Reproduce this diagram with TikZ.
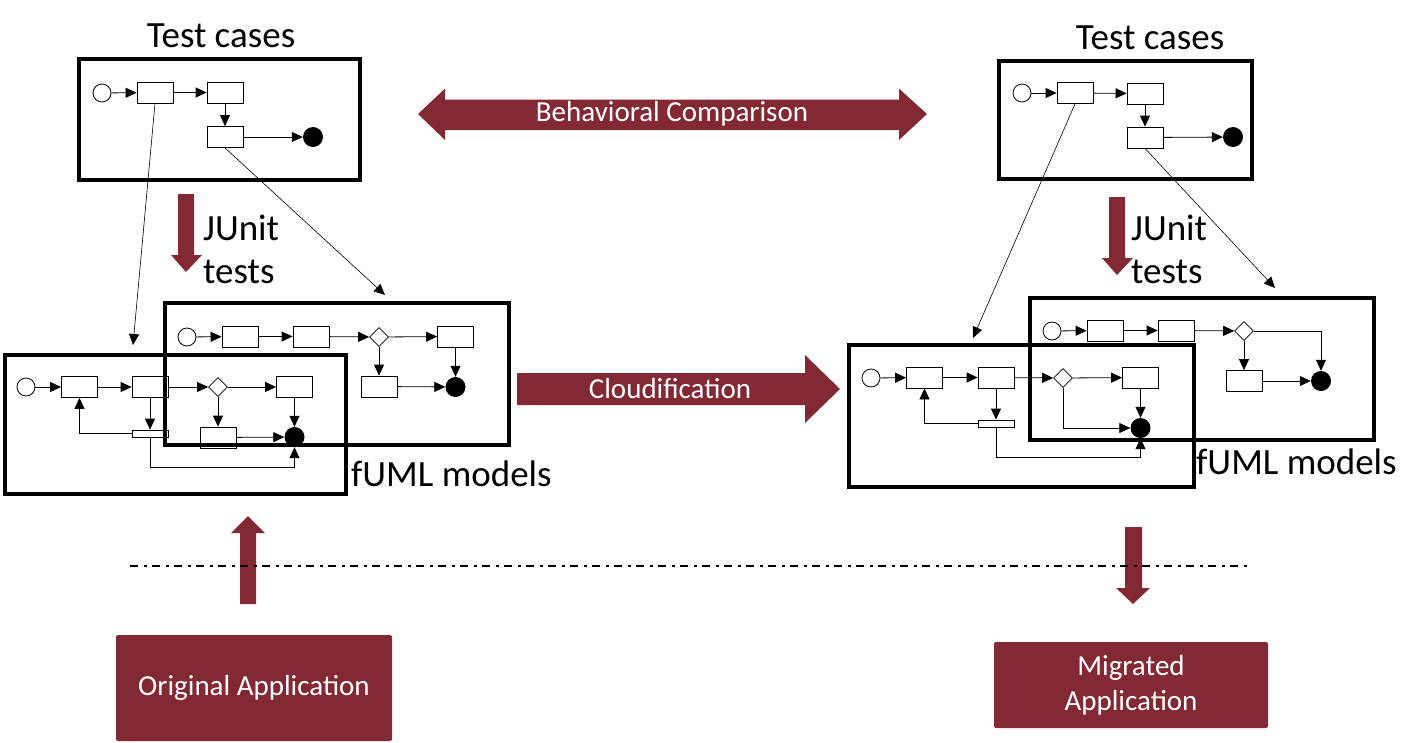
\documentclass[tikz,border=0pt]{standalone}
\usepackage{fontspec}
\setmainfont{Carlito}
\usetikzlibrary{shapes.geometric,arrows.meta}
\definecolor{maroon}{RGB}{131,41,52}
\tikzset{
  act/.style={draw, line width=0.8pt, minimum width=36pt, minimum height=21pt, inner sep=0pt},
  start/.style={draw, circle, line width=0.8pt, minimum size=18pt, inner sep=0pt},
  stop/.style={fill, circle, minimum size=20pt, inner sep=0pt},
  decision/.style={draw, diamond, line width=0.8pt, minimum width=19pt, minimum height=19pt, inner sep=0pt},
  fork/.style={draw, line width=0.8pt, minimum width=36pt, minimum height=7pt, inner sep=0pt},
  frame/.style={draw, line width=3.5pt, inner sep=0pt, anchor=north west},
  flow/.style={line width=0.8pt, -{Triangle[length=11pt,width=10pt]}},
  title/.style={inner sep=0pt, font=\fontsize{37}{43}\selectfont},
  banner/.style={text=white, inner sep=0pt, font=\fontsize{29}{35}\selectfont},
  appbox/.style={fill=maroon, rounded corners=2pt, text=white, align=center, font=\fontsize{29}{35}\selectfont}
}
\begin{document}
\begin{tikzpicture}[x=1pt,y=-1pt]
    \useasboundingbox (0,0) rectangle (1425,742);
    % Frames
    \node[frame, minimum width=281pt, minimum height=121pt] (tcL) at (77,57) {};
    \node[frame, minimum width=253pt, minimum height=118pt] (tcR) at (997,59) {};
    \node[frame, minimum width=344pt, minimum height=142pt] (fmLb) at (163,301) {};
    \node[frame, minimum width=341pt, minimum height=139pt] (fmLf) at (3,353) {};
    \node[frame, minimum width=344pt, minimum height=142pt] (fmRb) at (1028,296) {};
    \node[frame, minimum width=345pt, minimum height=142pt] (fmRf) at (847,343) {};
    % Labels
    \node[title] (tcLt) at (221,36) {Test cases};
    \node[title] (tcRt) at (1150,38) {Test cases};
    \node[title, anchor=west, align=left] (juL) at (203,249) {JUnit\\tests};
    \node[title, anchor=west, align=left] (juR) at (1131,249) {JUnit\\tests};
    \node[title, anchor=west] (fmLt) at (351,474) {fUML models};
    \node[title, anchor=west] (fmRt) at (1196,462) {fUML models};
    % Actions
    \foreach \n/\x/\y in {tLa/155/92.5, tLb/225/92.5, tLc/225/137,
                          tRa/1075/93, tRb/1145/93.5, tRc/1145/137.5,
                          LbA/240/336.5, LbB/311/336.5, LbC/455.5/336.5, LbD/379/386.5,
                          LfE/79.5/387, LfF/150/387, LfG/294.5/387, LfH/218/437.5,
                          RbA/1105/330.5, RbB/1176/330.5, RbD/1244/381,
                          RfE/924.5/377.5, RfF/996/377.5, RfG/1140.5/377.5} {
        \node[act] (\n) at (\x,\y) {};
    }
    % Initial, final, decision and fork nodes
    \foreach \n/\x/\y in {tLs/102/93, tRs/1022/93, Lbs/187/337, Lfs/26/387, Rbs/1052/331, Rfs/871/378}
        \node[start] (\n) at (\x,\y) {};
    \foreach \n/\x/\y in {tLe/313/137, tRe/1233/137, Lbe/455.5/387, Lfe/294.5/437, Rbe/1321/381, Rfe/1140.5/428}
        \node[stop] (\n) at (\x,\y) {};
    \foreach \n/\x/\y in {Lbd/379/337, Lfd/218/387, Rbd/1244/331, Rfd/1063/378}
        \node[decision] (\n) at (\x,\y) {};
    \node[fork] (Lfk) at (150,433.5) {};
    \node[fork] (Rfk) at (996,423.5) {};
    % Control flows
    \foreach \a/\b in {tLs/tLa, tLa/tLb, tLb/tLc, tLc/tLe, tRs/tRa, tRa/tRb, tRb/tRc, tRc/tRe,
                       Lbs/LbA, LbA/LbB, LbB/Lbd, Lbd/LbC, Lbd/LbD, LbC/Lbe, LbD/Lbe,
                       Lfs/LfE, LfE/LfF, LfF/Lfd, Lfd/LfG, Lfd/LfH, LfG/Lfe, LfH/Lfe, LfF/Lfk,
                       Rbs/RbA, RbA/RbB, RbB/Rbd, Rbd/RbD, RbD/Rbe,
                       Rfs/RfE, RfE/RfF, RfF/Rfd, Rfd/RfG, RfG/Rfe, RfF/Rfk}
        \draw[flow] (\a) -- (\b);
    \draw[flow] (Lfk) -| (LfE);
    \draw[flow] (Lfk.south) -- ++(0,30) -| (Lfe.south);
    \draw[flow] (Rbd) -| (Rbe);
    \draw[flow] (Rfd) |- (Rfe);
    \draw[flow] (Rfk) -| (RfE);
    \draw[flow] (Rfk.south) -- ++(0,30) -| (Rfe.south);
    % Test cases to models
    \coordinate (hLf) at (133,345);
    \coordinate (hLb) at (385,295);
    \coordinate (hRf) at (973,338);
    \coordinate (hRb) at (1275,288);
    \draw[flow, line width=0.6pt] (tLa.south) -- (hLf);
    \draw[flow, line width=0.6pt] (tLc.south) -- (hLb);
    \draw[flow, line width=0.6pt] (tRa.south) -- (hRf);
    \draw[flow, line width=0.6pt] (tRc.south) -- (hRb);
    % Block arrows
    \fill[maroon] (418,114) -- (445,88.6) -- (445,99.6) -- (899,99.6) -- (899,88.6) -- (927,114)
        -- (899,140) -- (899,130) -- (445,130) -- (445,140) -- cycle;
    \node[banner] (bcT) at (672,114) {Behavioral Comparison};
    \fill[maroon] (517,373) -- (805,373) -- (805,355) -- (840,389) -- (805,423) -- (805,405) -- (517,405) -- cycle;
    \node[banner] (clT) at (670,389) {Cloudification};
    \fill[maroon] (178,194) -- (194,194) -- (194,255) -- (202,255) -- (186,272) -- (171,255) -- (178,255) -- cycle;
    \fill[maroon] (1109,197) -- (1125,197) -- (1125,258) -- (1133,258) -- (1117,275) -- (1102,258) -- (1109,258) -- cycle;
    \fill[maroon] (240,604) -- (256,604) -- (256,533) -- (265,533) -- (248,516) -- (231,533) -- (240,533) -- cycle;
    \fill[maroon] (1125,527) -- (1142,527) -- (1142,588) -- (1150,588) -- (1133,604) -- (1116,588) -- (1125,588) -- cycle;
    % Border line
    \draw[line width=2pt, dash pattern=on 8pt off 5.5pt on 3pt off 5.5pt] (130,566) -- (1250,566);
    % Applications
    \node[appbox, minimum width=276pt, minimum height=106pt] (orig) at (254,688) {Original Application};
    \node[appbox, minimum width=274pt, minimum height=86pt] (migr) at (1131,685) {Migrated\\Application};
\end{tikzpicture}
\end{document}
